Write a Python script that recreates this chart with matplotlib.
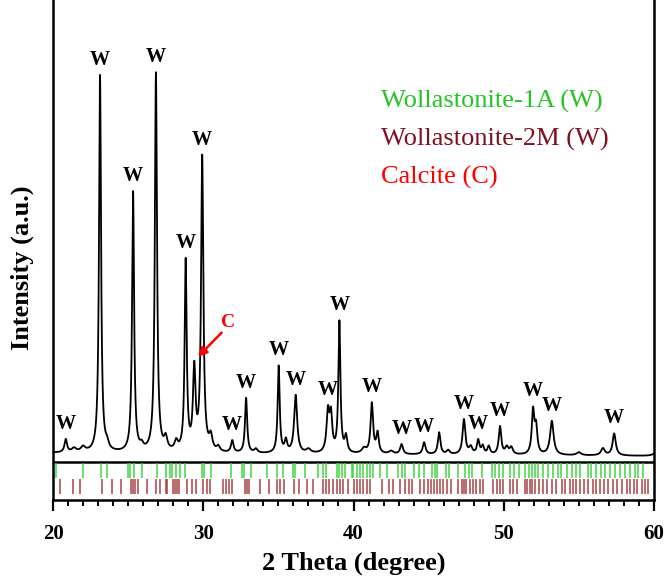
import numpy as np
import matplotlib
matplotlib.use("Agg")
import matplotlib.pyplot as plt

plt.rcParams['font.family'] = ['Liberation Serif', 'DejaVu Serif']

# XRD peaks: position (deg), height (a.u.), FWHM (deg)
peak_pos = [20.85, 21.4, 22.0, 23.13, 23.6, 25.33, 25.9, 26.85, 27.5, 28.2,
            28.83, 29.4, 29.93, 30.5, 31.0, 31.93, 32.85, 33.5, 35.02, 35.5,
            36.15, 37.0, 38.3, 38.5, 39.06, 39.5, 40.7, 41.22, 41.6, 42.5,
            43.2, 44.7, 45.7, 46.3, 47.35, 47.8, 48.3, 48.6, 49.0, 49.75,
            50.2, 50.5, 51.95, 52.15, 53.2, 55.0, 56.6, 57.35, 60.2]
peak_height = [13, 4, 5, 377, 6, 260, 5, 379, 12, 9,
               190, 80, 294, 14, 5, 12, 55, 4, 87, 12,
               58, 4, 40, 35, 131, 16, 5, 50, 20, 3,
               10, 12, 22, 4, 35, 7, 14, 8, 8, 28,
               7, 7, 43, 26, 34, 3, 7, 22, 6]
peak_width = [0.2, 0.35, 0.35, 0.16, 0.25, 0.16, 0.25, 0.17, 0.25, 0.25,
              0.16, 0.2, 0.18, 0.25, 0.25, 0.2, 0.17, 0.25, 0.16, 0.2,
              0.24, 0.35, 0.22, 0.2, 0.16, 0.2, 0.35, 0.2, 0.2, 0.35,
              0.22, 0.22, 0.2, 0.25, 0.22, 0.25, 0.2, 0.2, 0.2, 0.2,
              0.25, 0.25, 0.2, 0.2, 0.28, 0.35, 0.3, 0.25, 0.35]
baseline_ends = [47, 44]

# reference patterns (stick positions, deg)
wol_1a = [20.2, 22.0, 23.2, 23.6, 25.0, 25.1, 25.4, 25.9, 26.9, 27.5, 27.8,
          27.9, 28.18, 28.45, 28.78, 29.93, 30.07, 30.5, 31.84, 32.55, 32.71,
          33.17, 34.22, 34.88, 35.32, 35.99, 36.1, 36.77, 37.65, 37.98, 38.16,
          38.87, 39.05, 39.21, 39.43, 39.87, 39.98, 40.2, 40.43, 40.65, 40.87,
          41.09, 41.27, 41.76, 42.24, 42.97, 43.2, 43.42, 44.02, 44.37, 44.68,
          45.2, 45.42, 45.53, 46.15, 46.37, 46.97, 47.41, 47.7, 47.92, 48.52,
          49.19, 49.41, 49.7, 49.92, 50.4, 50.67, 51.02, 51.4, 51.69, 51.85,
          52.07, 52.29, 52.62, 52.96, 53.29, 53.62, 53.84, 54.18, 54.51, 54.84,
          55.06, 55.62, 55.84, 56.17, 56.5, 56.73, 57.06, 57.39, 57.73, 58.06,
          58.39, 58.72, 58.95, 59.28]
wol_2m = [20.47, 21.35, 21.8, 23.24, 23.95, 24.5, 25.19, 25.3, 25.48, 25.63,
          26.27, 26.85, 27.12, 27.5, 27.6, 27.96, 28.12, 28.27, 28.4, 28.9,
          29.23, 29.52, 30.0, 30.27, 30.45, 31.33, 31.5, 31.7, 31.9, 32.77,
          32.93, 33.06, 33.77, 34.39, 34.92, 35.1, 35.39, 36.03, 36.39, 36.92,
          37.28, 37.98, 38.16, 38.39, 38.61, 38.87, 39.1, 39.27, 39.65, 40.03,
          40.2, 40.43, 40.6, 40.91, 41.09, 41.87, 42.38, 42.64, 43.09, 43.42,
          43.71, 43.87, 44.42, 44.68, 44.97, 45.13, 45.35, 45.57, 45.75, 45.93,
          46.24, 46.46, 46.97, 47.19, 47.34, 47.52, 47.74, 47.96, 48.14, 48.41,
          48.63, 49.29, 49.56, 49.78, 49.96, 50.4, 50.62, 50.85, 51.4, 51.55,
          51.73, 51.85, 52.07, 52.36, 52.62, 52.89, 53.18, 53.47, 53.91, 54.07,
          54.4, 54.62, 54.84, 55.06, 55.33, 55.62, 55.95, 56.13, 56.39, 56.66,
          56.95, 57.24, 57.55, 57.84, 58.17, 58.39, 58.66, 58.88, 59.17, 59.39,
          59.61]

# labelled wollastonite peaks
w_peaks = [20.85, 23.13, 25.33, 26.85, 28.83, 29.93, 31.93, 32.85, 35.02,
           36.15, 38.3, 39.06, 41.22, 43.2, 44.7, 47.35, 48.3, 49.75, 51.95,
           53.2, 57.35]
calcite_peak = 29.4
calcite_label_x = 31.65

legend_text = ['Wollastonite-1A (W)', 'Wollastonite-2M (W)', 'Calcite (C)']
legend_color = ['#22c422', '#801020', '#ff0000']

green = '#3ad43a'
maroon = '#a53a3a'

x = np.linspace(20, 60, 8001)
y = np.interp(x, [20, 60], baseline_ends)
for p, h, w in zip(peak_pos, peak_height, peak_width):
    g = (w / 2) ** 2
    y = y + h * g / ((x - p) ** 2 + g)

fig = plt.figure(figsize=(6.67, 5.79), dpi=100)
ax = fig.add_axes([53 / 667, 79 / 579, 601 / 667, 500 / 579])

ax.plot(x, y, color='black', lw=1.3)
ax.axhline(38, color='black', lw=1.8)
ax.vlines(wol_1a, 22, 37, color=green, lw=1.4, alpha=0.75)
ax.vlines(wol_2m, 6, 21, color=maroon, lw=1.4, alpha=0.75)

for p in w_peaks:
    top = y[np.argmin(np.abs(x - p))]
    ax.text(p, top + 5, 'W', ha='center', va='bottom', fontsize=14.5,
            fontweight='bold')

# calcite marker: red arrow pointing at the shoulder peak
ctop = y[np.argmin(np.abs(x - calcite_peak))]
ax.annotate('', xy=(calcite_peak + 0.12, ctop + 2),
            xytext=(calcite_label_x - 0.3, ctop + 30),
            arrowprops=dict(arrowstyle='-|>', color='#ff0000', lw=1.8,
                            mutation_scale=13))
ax.text(calcite_label_x, ctop + 30, 'C', color='#ff0000', fontsize=14,
        fontweight='bold', ha='center', va='bottom')

for i, (t, c) in enumerate(zip(legend_text, legend_color)):
    ax.text(0.546, 0.798 - i * 0.076, t, color=c, fontsize=19,
            transform=ax.transAxes, ha='left', va='center')

ax.set_xlim(20, 60)
ax.set_ylim(0, 500)
ax.set_xticks([20, 30, 40, 50, 60])
ax.set_xticks(np.arange(20, 61, 1), minor=True)
ax.set_yticks([])
ax.tick_params(axis='x', which='major', direction='out', length=8, width=1.6,
               labelsize=15, pad=9)
ax.tick_params(axis='x', which='minor', direction='out', length=4, width=1.4)
for lab in ax.get_xticklabels():
    lab.set_fontweight('bold')
for s in ['left', 'right', 'bottom']:
    ax.spines[s].set_linewidth(1.8)
ax.spines['top'].set_visible(False)

ax.set_xlabel('2 Theta (degree)', fontsize=19, fontweight='bold', labelpad=6)
fig.text(22 / 667, 1 - 268 / 579, 'Intensity (a.u.)', rotation=90,
         fontsize=19, fontweight='bold', ha='center', va='center')

fig.savefig('out.png', dpi=100)
